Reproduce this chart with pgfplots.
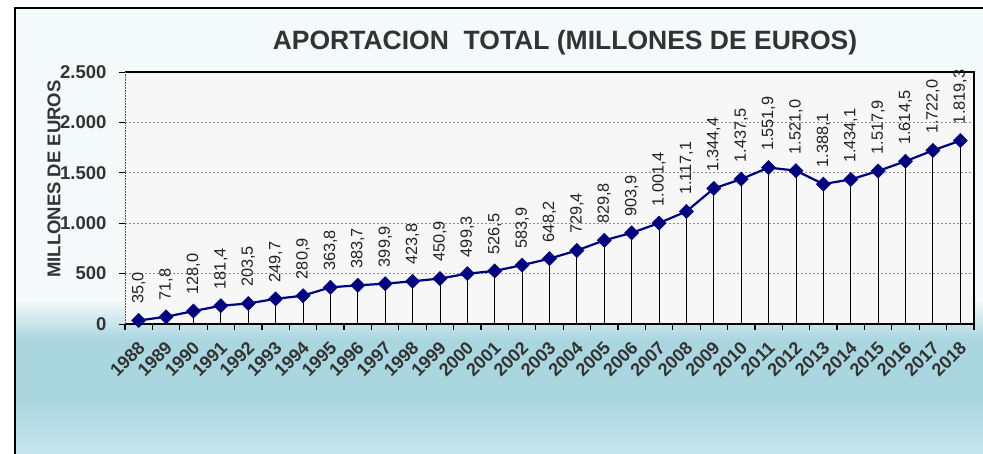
\documentclass[border=0pt]{standalone}
\usepackage{fontspec}
\setmainfont{Liberation Sans}
\usepackage{pgfplots}
\pgfplotsset{compat=1.18}
\usepackage{pgfplotstable}
\definecolor{txt}{HTML}{333333}
\definecolor{lbl}{HTML}{222222}
\definecolor{bgtop}{HTML}{F4F9FA}
\definecolor{bgblue}{HTML}{AAD6E0}
\definecolor{bgbot}{HTML}{C6E6EE}
\definecolor{plotbg}{HTML}{F7F7F7}
\definecolor{linec}{HTML}{000080}

\pgfplotstableread{
x y
0 35.0
1 71.8
2 128.0
3 181.4
4 203.5
5 249.7
6 280.9
7 363.8
8 383.7
9 399.9
10 423.8
11 450.9
12 499.3
13 526.5
14 583.9
15 648.2
16 729.4
17 829.8
18 903.9
19 1001.4
20 1117.1
21 1344.4
22 1437.5
23 1551.9
24 1521.0
25 1388.1
26 1434.1
27 1517.9
28 1614.5
29 1722.0
30 1819.3
}\datatable

\begin{document}
\begin{tikzpicture}[x=1pt,y=1pt]
\useasboundingbox (-125,-130) rectangle (858,324);
\fill[white] (-125,-130) rectangle (858,324);
\fill[bgtop] (-110,23) rectangle (858,316);
\shade[top color=bgtop, bottom color=bgblue] (-110,-16) rectangle (858,24);
\fill[bgblue] (-110,-77) rectangle (858,-15);
\shade[top color=bgblue, bottom color=bgbot] (-110,-130) rectangle (858,-76);
\draw[black, line width=1.5pt] (-110,-131) -- (-110,316) -- (859,316);

\begin{axis}[
  at={(0,0)}, anchor=south west,
  scale only axis, width=849pt, height=252pt,
  xmin=-0.5, xmax=30.5, ymin=0, ymax=2500,
  clip=false,
  axis background/.style={fill=plotbg},
  axis line style={draw=none},
  xtick={-0.5,0.5,...,30.5},
  x tick label as interval,
  xticklabels={1988,1989,1990,1991,1992,1993,1994,1995,1996,1997,1998,1999,2000,2001,2002,2003,2004,2005,2006,2007,2008,2009,2010,2011,2012,2013,2014,2015,2016,2017,2018},
  xtick pos=bottom, ytick pos=left,
  tick align=outside,
  major tick length=6pt,
  xtick style={draw=black, line width=1.2pt},
  ytick style={draw=black, line width=0.6pt},
  ytick={0,500,...,2500},
  ymajorgrids,
  grid style={dash pattern=on 2pt off 2pt, color=black!45, line width=0.6pt},
  yticklabel style={font=\bfseries\fontsize{18.5}{18.5}\selectfont, color=txt, xshift=-9pt,
    /pgf/number format/.cd, use comma, 1000 sep={.}, assume math mode=true},
  xticklabel style={font=\bfseries\fontsize{18}{18}\selectfont, color=txt,
    inner sep=0pt, xshift=3pt, yshift=-15pt, rotate=45, anchor=east},
  ylabel={MILLONES DE EUROS},
  ylabel style={at={(axis description cs:-0.0836,0.575)}, anchor=center,
    font=\bfseries\fontsize{18.5}{19}\selectfont, color=txt},
]
\addplot[ycomb, black, line width=0.9pt, no marks] table[x=x,y=y]{\datatable};
\addplot[color=linec, line width=2.2pt, mark=square*, mark size=5pt,
  mark options={rotate=45, fill=linec, draw=linec, line width=0.5pt},
  nodes near coords={\pgfmathprintnumber[fixed, fixed zerofill, precision=1, use comma, 1000 sep={.}, assume math mode=true]{\pgfplotspointmeta}},
  every node near coord/.append style={font=\fontsize{16.3}{17}\selectfont, color=lbl, rotate=90, anchor=west, xshift=13pt}
] table[x=x,y=y]{\datatable};
\draw[black, line width=2pt] (rel axis cs:0,1) -- (rel axis cs:1,1) -- (rel axis cs:1,0);
\draw[black, line width=2pt] (rel axis cs:0,0) -- (rel axis cs:1,0);
\draw[black!70, line width=0.6pt, densely dotted] (rel axis cs:0,0) -- (rel axis cs:0,1);
\end{axis}
\node[font=\bfseries\fontsize{26.5}{28}\selectfont, color=txt] at (440,281) {APORTACION\ \ TOTAL (MILLONES DE EUROS)};
\end{tikzpicture}
\end{document}
